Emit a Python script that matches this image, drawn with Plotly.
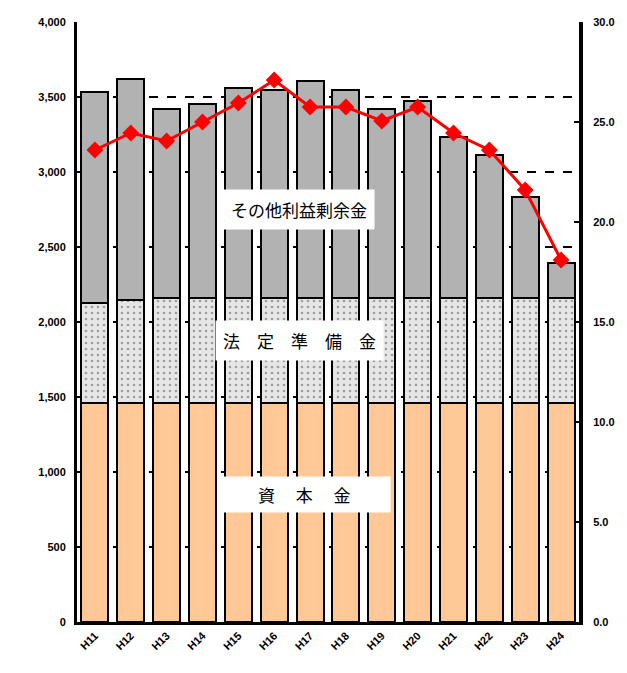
import plotly.graph_objects as go

# 年度
years = ["H11", "H12", "H13", "H14", "H15", "H16", "H17",
         "H18", "H19", "H20", "H21", "H22", "H23", "H24"]

# 資本金（百万円）
capital = [1460, 1460, 1460, 1460, 1460, 1460, 1460,
           1460, 1460, 1460, 1460, 1460, 1460, 1460]

# 法定準備金（百万円）
legal_reserve = [667, 687, 700, 700, 700, 700, 700,
                 700, 700, 700, 700, 700, 700, 700]

# その他利益剰余金（百万円）
other_surplus = [1406, 1473, 1260, 1293, 1400, 1387, 1447,
                 1387, 1260, 1313, 1073, 953, 673, 233]

# 比率（％、右軸）
ratio = [23.6, 24.45, 24.05, 25.0, 25.95, 27.1, 25.75,
         25.75, 25.05, 25.75, 24.45, 23.6, 21.6, 18.1]

left_ticks = [0, 500, 1000, 1500, 2000, 2500, 3000, 3500, 4000]
right_ticks = [0, 5, 10, 15, 20, 25, 30]

edge = dict(color="black", width=2)

fig = go.Figure()
fig.add_trace(go.Bar(
    x=years, y=capital, name="資本金",
    marker=dict(color="#ffc896", line=edge),
))
fig.add_trace(go.Bar(
    x=years, y=legal_reserve, name="法定準備金",
    marker=dict(color="#e6e6e6", line=edge,
                pattern=dict(shape=".", fgcolor="#555555", bgcolor="#e6e6e6",
                             size=6, solidity=0.15)),
))
fig.add_trace(go.Bar(
    x=years, y=other_surplus, name="その他利益剰余金",
    marker=dict(color="#b2b2b2", line=edge),
))
fig.add_trace(go.Scatter(
    x=years, y=ratio, yaxis="y2", mode="lines+markers", name="比率",
    line=dict(color="#ff0000", width=3),
    marker=dict(symbol="diamond", size=13, color="#ff0000"),
))

label_font = dict(family="Noto Sans CJK JP", size=17, color="black")
annotations = [
    dict(x=5.68, y=2747, text="その他利益剰余金", showarrow=False,
         font=label_font, bgcolor="white", borderpad=7),
    dict(x=5.71, y=1880, text="法　定　準　備　金", showarrow=False,
         font=label_font, bgcolor="white", borderpad=7),
    dict(x=5.85, y=853, text="\u3000\u3000資\u3000 本\u3000 金\u3000\u3000",
         showarrow=False, font=label_font, bgcolor="white", borderpad=5),
]

tick_font = dict(family="Liberation Sans", size=11, color="black", weight="bold")

fig.update_layout(
    width=627, height=673,
    margin=dict(l=77, r=45, t=22, b=51),
    paper_bgcolor="white", plot_bgcolor="white",
    barmode="stack", bargap=0.25,
    showlegend=False,
    annotations=annotations,
    font=dict(family="Liberation Sans", size=10, color="black"),
    xaxis=dict(
        type="category", tickangle=-45, range=[-0.5, 13.5],
        tickfont=tick_font,
        showline=True, linecolor="black", linewidth=3,
        ticks="", showgrid=False,
    ),
    yaxis=dict(
        range=[0, 4000], tickvals=left_ticks, tickformat=",",
        showline=True, linecolor="black", linewidth=3,
        ticks="inside", ticklen=5, tickwidth=2, tickcolor="black",
        showgrid=True, gridcolor="black", gridwidth=2, griddash="dash",
        zeroline=False, ticklabelstandoff=6,
        tickfont=tick_font,
    ),
    yaxis2=dict(
        range=[0, 30], tickvals=right_ticks, tickformat=".1f",
        overlaying="y", side="right",
        showline=True, linecolor="black", linewidth=4,
        ticks="inside", ticklen=5, tickwidth=2, tickcolor="black",
        showgrid=False, zeroline=False, ticklabelstandoff=8,
        tickfont=tick_font,
    ),
)

fig.write_html("out.html")
